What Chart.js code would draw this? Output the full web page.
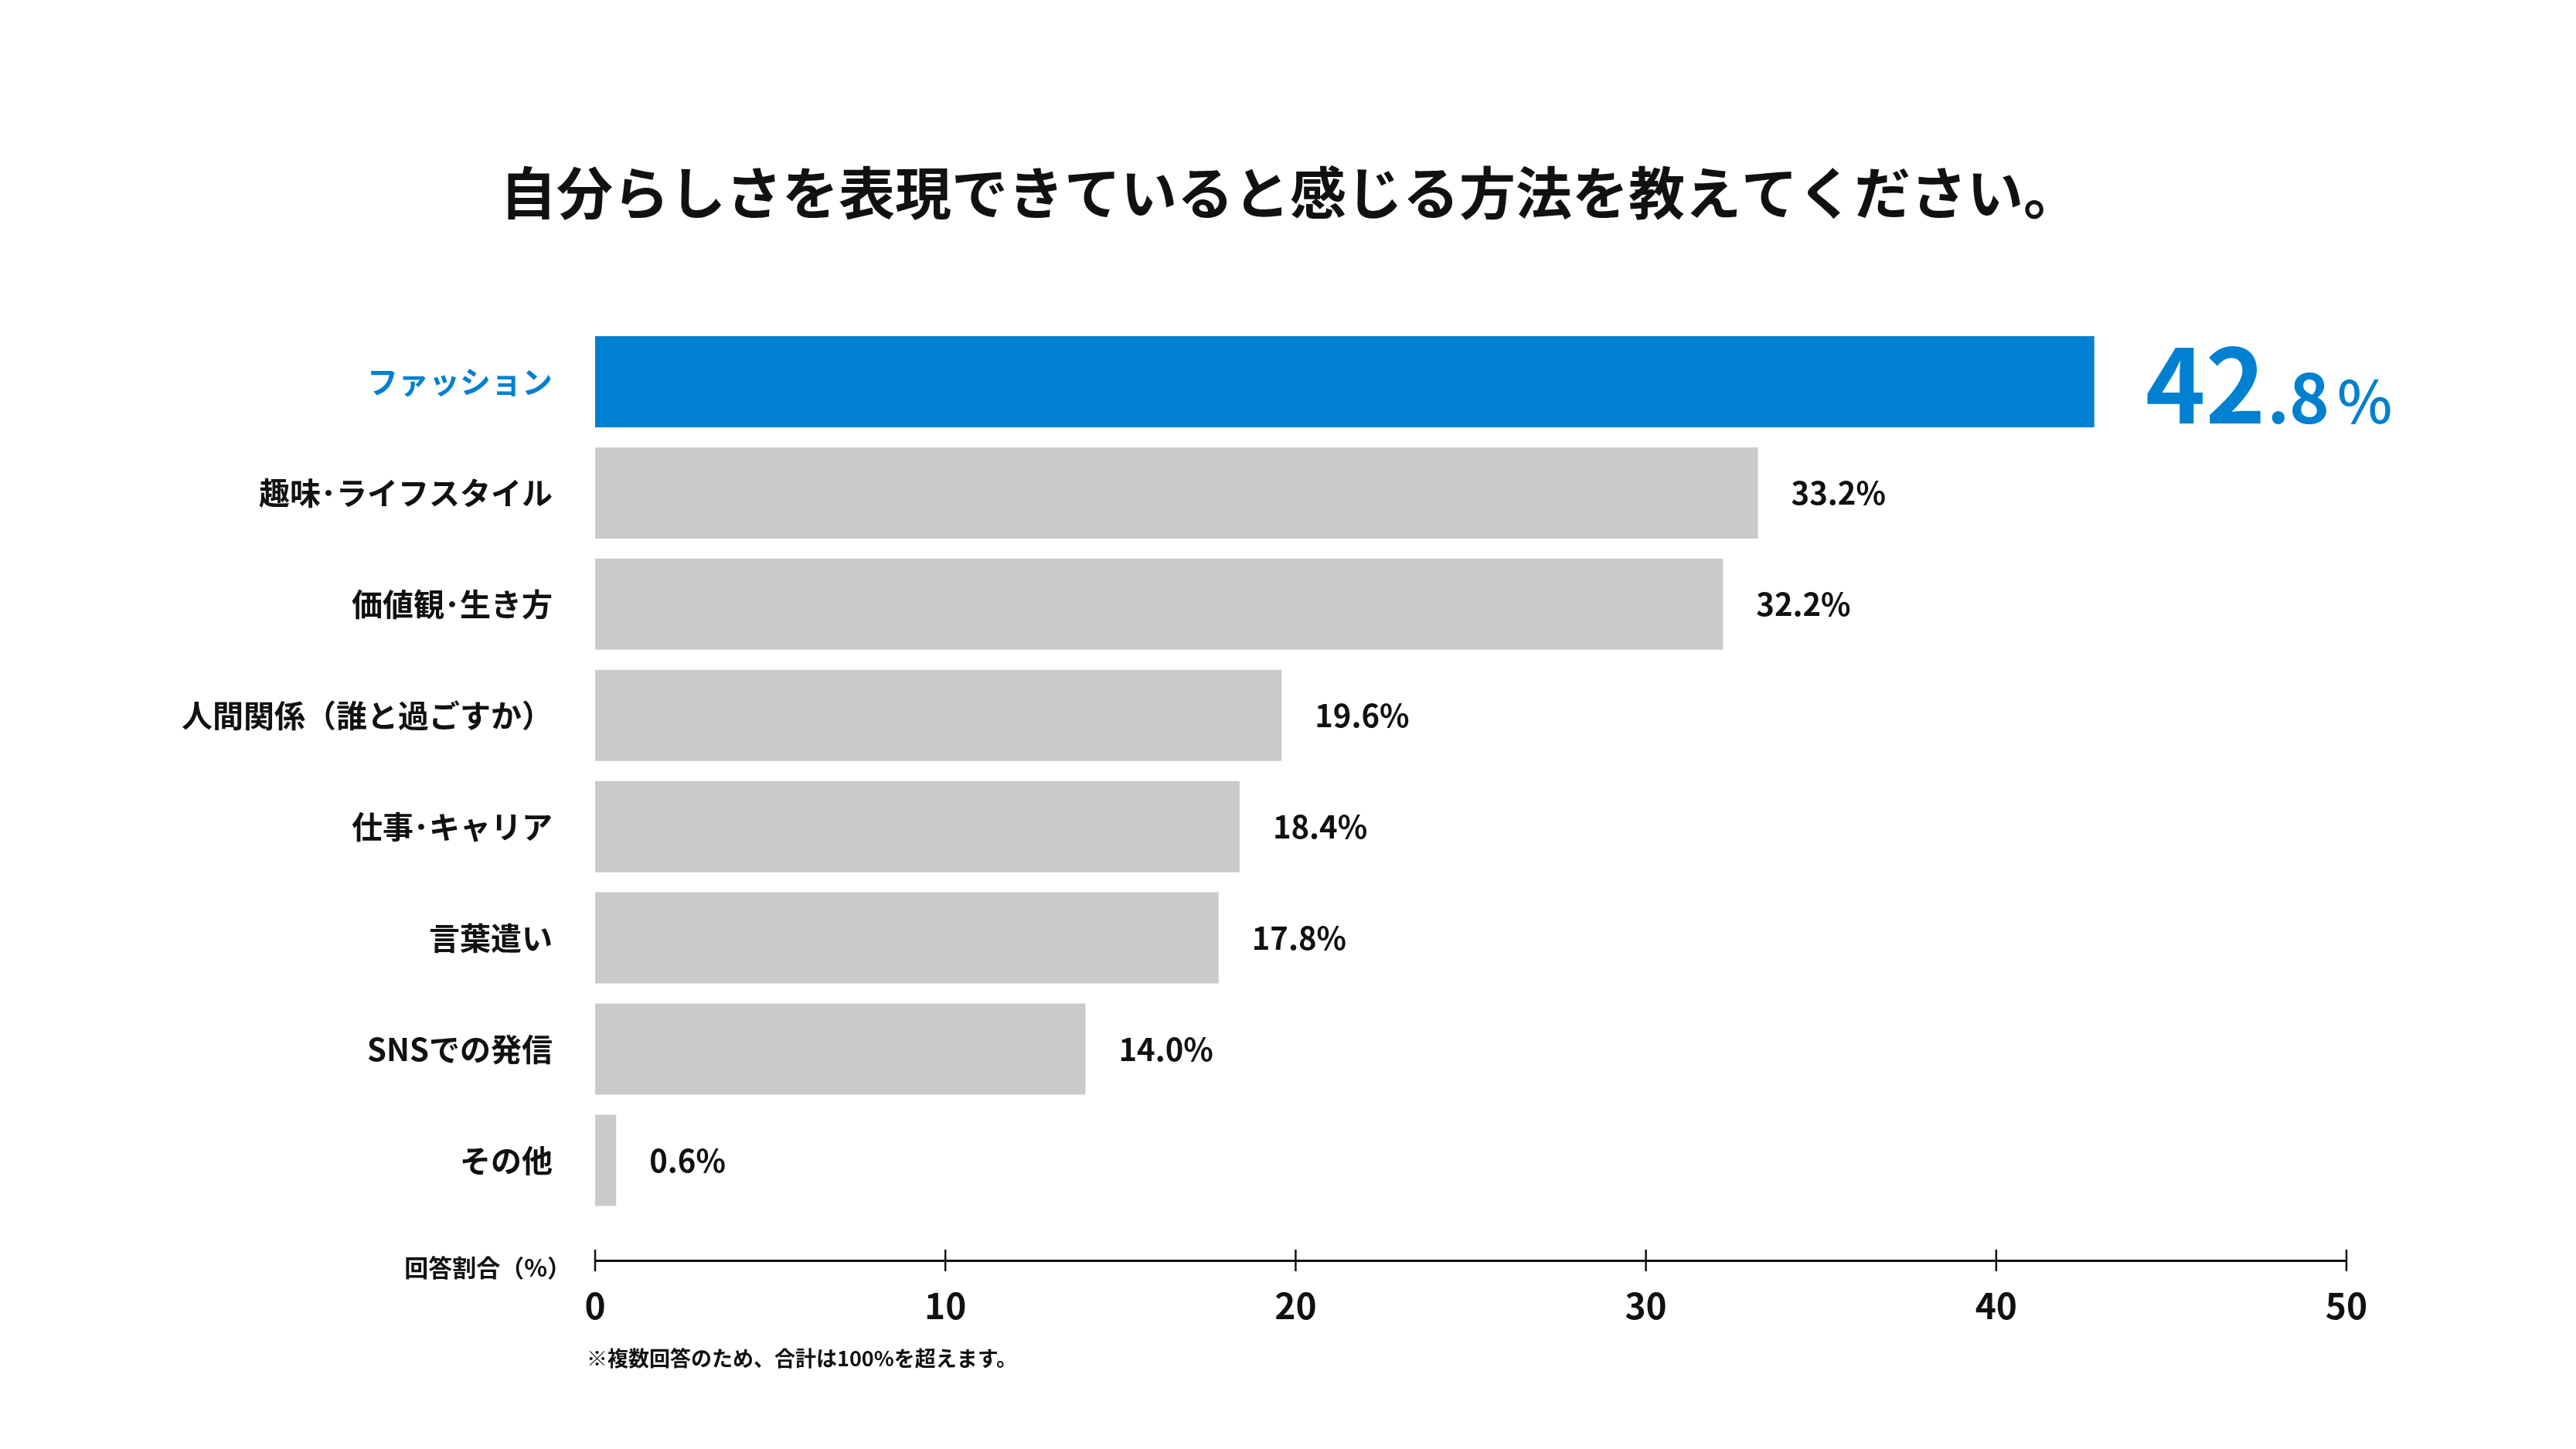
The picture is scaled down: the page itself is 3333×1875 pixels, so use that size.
<!DOCTYPE html>
<html lang="ja">
<head>
<meta charset="utf-8">
<title>自分らしさを表現できていると感じる方法</title>
<script src="https://cdn.jsdelivr.net/npm/chart.js@4.4.1/dist/chart.umd.min.js"></script>
<style>
  html, body { margin: 0; padding: 0; background: #fff; }
  #wrap { width: 3333px; height: 1875px; }
</style>
</head>
<body>
<div id="wrap"><canvas id="chart" width="3333" height="1875"></canvas></div>
<script>
const categories = ['ファッション', '趣味･ライフスタイル', '価値観･生き方', '人間関係（誰と過ごすか）', '仕事･キャリア', '言葉遣い', 'SNSでの発信', 'その他'];
const values = [42.8, 33.2, 32.2, 19.6, 18.4, 17.8, 14.0, 0.6];
const xTicks = [0, 10, 20, 30, 40, 50];
const titleText = '自分らしさを表現できていると感じる方法を教えてください。';
const axisCaption = '回答割合（%）';
const footnote = '※複数回答のため、合計は100%を超えます。';

const FONT = "'Noto Sans CJK JP', 'Noto Sans', sans-serif";
const BLUE = '#0080d0';
const GRAY = '#cacaca';
const INK = '#111111';

// title drawn centred on the whole canvas
const pageTitle = {
  id: 'pageTitle',
  beforeDraw(chart) {
    const { ctx } = chart;
    ctx.save();
    ctx.fillStyle = INK;
    ctx.font = `bold 73px ${FONT}`;
    ctx.textAlign = 'center';
    ctx.textBaseline = 'middle';
    ctx.fillText(titleText, 1669, 249);
    ctx.restore();
  }
};

// value labels after bar ends, first one big
const valueLabels = {
  id: 'valueLabels',
  afterDatasetsDraw(chart) {
    const { ctx } = chart;
    const meta = chart.getDatasetMeta(0);
    ctx.save();
    meta.data.forEach((bar, i) => {
      const txt = values[i].toFixed(1);
      if (i === 0) {
        const [intPart, decPart] = txt.split('.');
        const base = bar.y + 54;
        let x = bar.x + 66;
        ctx.fillStyle = BLUE;
        ctx.textAlign = 'left';
        ctx.textBaseline = 'alphabetic';
        ctx.font = `bold 132px ${FONT}`;
        ctx.fillText(intPart, x, base);
        x += ctx.measureText(intPart).width + 2;
        ctx.font = `bold 88px ${FONT}`;
        ctx.fillText('.' + decPart, x, base);
        x += ctx.measureText('.' + decPart).width + 10;
        ctx.font = `500 76px ${FONT}`;
        ctx.fillText('%', x, base);
      } else {
        ctx.fillStyle = INK;
        ctx.textAlign = 'left';
        ctx.textBaseline = 'middle';
        ctx.font = `bold 40px ${FONT}`;
        ctx.fillText(txt + '%', bar.x + 43, bar.y);
      }
    });
    ctx.restore();
  }
};

// ticks crossing the axis line, caption and footnote
const axisExtras = {
  id: 'axisExtras',
  afterDraw(chart) {
    const { ctx, chartArea } = chart;
    const x = chart.scales.x;
    const yAxis = chartArea.bottom;
    ctx.save();
    ctx.strokeStyle = INK;
    ctx.lineWidth = 2.5;
    x.ticks.forEach((t) => {
      const px = x.getPixelForValue(t.value);
      ctx.beginPath();
      ctx.moveTo(px, yAxis - 14);
      ctx.lineTo(px, yAxis + 14);
      ctx.stroke();
    });
    ctx.fillStyle = INK;
    ctx.font = `bold 31px ${FONT}`;
    ctx.textAlign = 'right';
    ctx.textBaseline = 'middle';
    ctx.fillText(axisCaption, 739, yAxis + 9);
    ctx.font = `bold 27px ${FONT}`;
    ctx.textAlign = 'left';
    ctx.fillText(footnote, 759, 1758);
    ctx.restore();
  }
};

new Chart(document.getElementById('chart'), {
  type: 'bar',
  data: {
    datasets: [{
      data: values.map((v, i) => ({ x: v, y: i })),
      backgroundColor: values.map((v, i) => (i === 0 ? BLUE : GRAY)),
      borderWidth: 0,
      categoryPercentage: 0.82,
      barPercentage: 1
    }]
  },
  options: {
    indexAxis: 'y',
    responsive: false,
    maintainAspectRatio: false,
    animation: false,
    devicePixelRatio: 1,
    layout: { padding: { left: 0, right: 297, top: 422, bottom: 0 } },
    plugins: {
      legend: { display: false },
      tooltip: { enabled: false },
      title: { display: false }
    },
    scales: {
      x: {
        type: 'linear',
        afterBuildTicks: (s) => {
          s.min = 0;
          s.max = 50;
          s.ticks = xTicks.map((v) => ({ value: v }));
        },
        afterFit: (s) => { s.height = 244; },
        grid: { display: false },
        border: { display: true, color: INK, width: 3 },
        ticks: { padding: 23, color: INK, font: { family: FONT, size: 46, weight: 'bold' } }
      },
      y: {
        type: 'linear',
        reverse: true,
        offset: false,
        afterBuildTicks: (s) => {
          s.min = -0.5;
          s.max = 7.9;
          s.ticks = categories.map((c, i) => ({ value: i }));
        },
        afterFit: (s) => { s.width = 770; },
        grid: { display: false, offset: false },
        border: { display: false },
        ticks: {
          padding: 47,
          autoSkip: false,
          color: (c) => (c.index === 0 ? BLUE : INK),
          font: { family: FONT, size: 40, weight: 'bold' },
          callback: (v) => categories[v]
        }
      }
    }
  },
  plugins: [pageTitle, valueLabels, axisExtras]
});
</script>
</body>
</html>
